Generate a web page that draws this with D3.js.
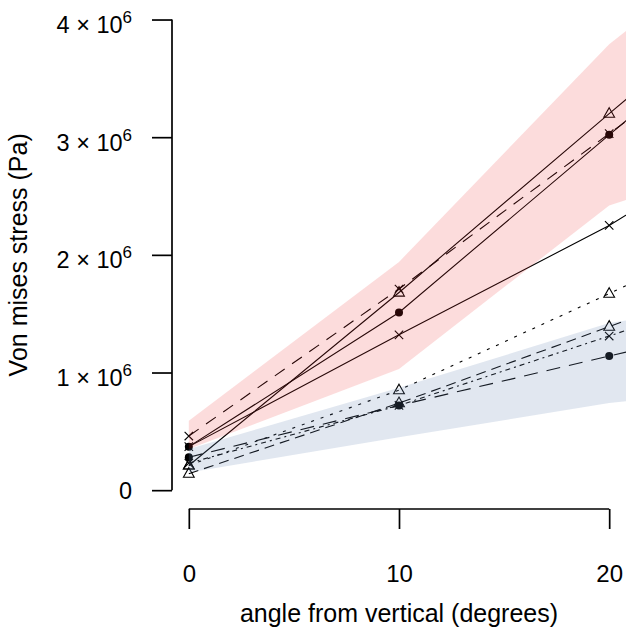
<!DOCTYPE html>
<html><head><meta charset="utf-8">
<script src="https://cdn.jsdelivr.net/npm/d3@7"></script>
<style>body{margin:0;background:#fff}svg{display:block}</style>
</head><body><svg id="c" width="632" height="633"></svg>
<script>
// angles (degrees) at which stress was evaluated; last one lies outside the shown range
const angles = [0, 10, 20, 30];
// Von mises stress (Pa)
const redTriSolid   = [0.21e6, 1.68e6, 3.20e6, 4.70e6];
const redCircSolid  = [0.37e6, 1.51e6, 3.02e6, 4.52e6];
const redCrossSolid = [0.37e6, 1.32e6, 2.25e6, 3.35e6];
const redCrossDash  = [0.46e6, 1.71e6, 3.03e6, 4.33e6];
const blueTriDot    = [0.21e6, 0.85e6, 1.67e6, 2.52e6];
const blueTriDash   = [0.14e6, 0.74e6, 1.39e6, 2.05e6];
const blueCrossDash = [0.23e6, 0.72e6, 1.31e6, 1.91e6];
const blueCircDash  = [0.28e6, 0.72e6, 1.14e6, 1.56e6];
// bands
const redBandUpper  = [0.59e6, 1.94e6, 3.79e6, 5.20e6];
const redBandLower  = [0.35e6, 1.03e6, 2.42e6, 3.00e6];
const blueBandUpper = [0.35e6, 0.87e6, 1.42e6, 1.70e6];
const blueBandLower = [0.15e6, 0.45e6, 0.74e6, 0.95e6];
// axis ticks
const xTicks = [0, 10, 20];
const yTicks = [0, 1e6, 2e6, 3e6, 4e6];
const yTickMant = ["0", "1", "2", "3", "4"];

const series = [
  {v: redTriSolid, dash: null, shape: "tri"},
  {v: redCircSolid, dash: null, shape: "circ"},
  {v: redCrossSolid, dash: null, shape: "cross"},
  {v: redCrossDash, dash: "12,9", shape: "cross"},
  {v: blueTriDot, dash: "3,7", shape: "tri"},
  {v: blueTriDash, dash: "10,6", shape: "tri"},
  {v: blueCrossDash, dash: "5,4,2,4", shape: "cross"},
  {v: blueCircDash, dash: "14,9", shape: "circ"}
];

const svg = d3.select("#c");
const x = d3.scaleLinear().domain([-0.8, 20.8]).range([172, 626]);
const y = d3.scaleLinear().domain([-0.16e6, 4.16e6]).range([509, 0.7]);
const font = "Liberation Sans, Arial, Helvetica, sans-serif";

svg.append("defs").append("clipPath").attr("id", "pr")
  .append("rect").attr("x", 172).attr("y", 0.7).attr("width", 454).attr("height", 508.3);

const plot = svg.append("g").attr("clip-path", "url(#pr)");
const line = d3.line().x((d, i) => x(angles[i])).y(d => y(d));

series.forEach(s => {
  plot.append("path").attr("d", line(s.v)).attr("fill", "none")
    .attr("stroke", "#000").attr("stroke-width", 1.1)
    .attr("stroke-dasharray", s.dash);
});
series.forEach(s => {
  s.v.forEach((val, i) => {
    const cx = x(angles[i]), cy = y(val);
    if (s.shape === "circ") {
      plot.append("circle").attr("cx", cx).attr("cy", cy).attr("r", 4).attr("fill", "#000");
    } else if (s.shape === "tri") {
      const r = 6;
      plot.append("path").attr("d", `M${cx},${cy - r}L${cx + r * 0.9},${cy + r * 0.6}L${cx - r * 0.9},${cy + r * 0.6}Z`)
        .attr("fill", "none").attr("stroke", "#000").attr("stroke-width", 1.1);
    } else {
      const r = 4.2;
      plot.append("path").attr("d", `M${cx - r},${cy - r}L${cx + r},${cy + r}M${cx - r},${cy + r}L${cx + r},${cy - r}`)
        .attr("stroke", "#000").attr("stroke-width", 1.1);
    }
  });
});

const area = (up, lo) => d3.area().x((d, i) => x(angles[i])).y0((d, i) => y(lo[i])).y1(d => y(d))(up);
plot.append("path").attr("d", area(redBandUpper, redBandLower)).attr("fill", "rgb(235,45,45)").attr("fill-opacity", 0.17);
plot.append("path").attr("d", area(blueBandUpper, blueBandLower)).attr("fill", "rgb(105,135,180)").attr("fill-opacity", 0.2);

// y axis
const ya = svg.append("g").attr("transform", "translate(172,0)")
  .call(d3.axisLeft(y).tickValues(yTicks).tickSize(20).tickSizeOuter(0).tickFormat(""));
ya.select(".domain").remove();
ya.selectAll(".tick line").attr("stroke-width", 1.7);
ya.append("line").attr("x1", 0).attr("x2", 0).attr("y1", y(0)).attr("y2", y(4e6)).attr("stroke", "#000").attr("stroke-width", 1.7);
ya.selectAll(".tick").each(function(d, i) {
  const t = d3.select(this).append("text").attr("x", -40).attr("text-anchor", "end")
    .attr("fill", "#000").style("font-family", font).style("font-size", "23.5px");
  if (d === 0) {
    t.attr("dy", "8.5").text(yTickMant[i]);
  } else {
    t.attr("dy", "13");
    t.append("tspan").text(yTickMant[i] + " \u00d7 10");
    t.append("tspan").attr("dy", "-10").style("font-size", "17px").text("6");
  }
});

// x axis
const xa = svg.append("g").attr("transform", "translate(0,509)")
  .call(d3.axisBottom(x).tickValues(xTicks).tickSize(20).tickSizeOuter(0).tickFormat(""));
xa.select(".domain").remove();
xa.selectAll(".tick line").attr("stroke-width", 1.7);
xa.append("line").attr("x1", x(0)).attr("x2", x(20)).attr("y1", 0).attr("y2", 0).attr("stroke", "#000").attr("stroke-width", 1.7);
xa.selectAll(".tick").append("text").attr("y", 73).attr("text-anchor", "middle").attr("fill", "#000")
  .style("font-family", font).style("font-size", "24px").text(d => d);

svg.append("text").attr("x", x(10)).attr("y", 622).attr("text-anchor", "middle")
  .style("font-family", font).style("font-size", "25px").text("angle from vertical (degrees)");
svg.append("text").attr("transform", `translate(27,${(y(0) + y(4e6)) / 2}) rotate(-90)`).attr("text-anchor", "middle")
  .style("font-family", font).style("font-size", "25px").text("Von mises stress (Pa)");
</script></body></html>
